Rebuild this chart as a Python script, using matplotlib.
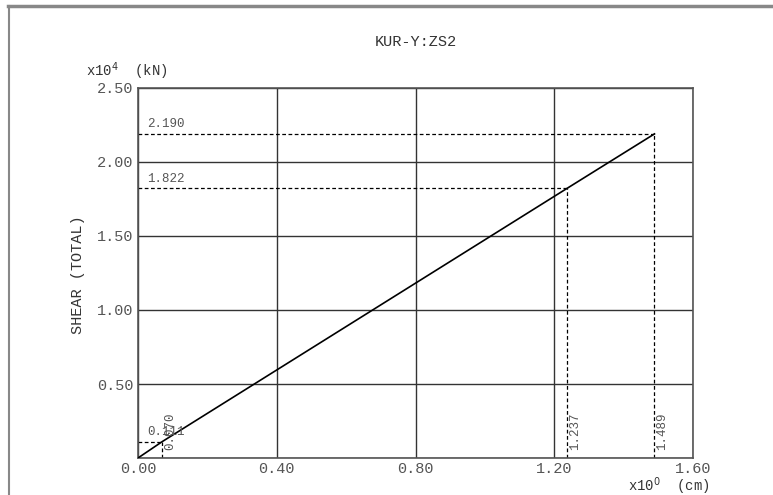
import matplotlib.pyplot as plt
from matplotlib.lines import Line2D

# 하중-변위 곡선 (x: cm, y: x10^4 kN)
disp = [0.0, 0.070, 1.237, 1.489]
shear = [0.0, 0.111, 1.822, 2.190]
disp_labels = ["0.070", "1.237", "1.489"]
shear_labels = ["0.111", "1.822", "2.190"]
xticks = [0.0, 0.4, 0.8, 1.2, 1.6]
yticks = [0.0, 0.5, 1.0, 1.5, 2.0, 2.5]

plt.rcParams['font.family'] = ['Liberation Mono', 'DejaVu Sans Mono']
gray = '#555555'

W, H = 773, 495
fig = plt.figure(figsize=(W / 100, H / 100), dpi=100)
ax = fig.add_axes([138 / W, 1 - 458 / H, (693 - 138) / W, (458 - 88) / H])

# 바깥 테두리 (위, 왼쪽)
fig.add_artist(Line2D([8 / W, 1], [1 - 6 / H, 1 - 6 / H], color='#888888', lw=2.5))
fig.add_artist(Line2D([9 / W, 9 / W], [0, 1 - 6 / H], color='#888888', lw=1.5))

ax.set_xlim(0, 1.6)
ax.set_ylim(0, 2.5)
ax.set_xticks(xticks)
ax.set_yticks(yticks)
ax.set_xticklabels(["%.2f" % v for v in xticks])
ax.set_yticklabels(["%.2f" % v if v > 0 else "" for v in yticks])
ax.tick_params(length=0, labelsize=11, colors=gray)
ax.tick_params(axis='y', pad=3)
ax.tick_params(axis='x', pad=3)
ax.grid(True, color='#333333', lw=1.0)
for s in ax.spines.values():
    s.set_color('#555555')
    s.set_linewidth(1.2)

ax.plot(disp, shear, color='black', lw=1.2, zorder=3)

# 기준점 점선과 값 표시
for xv, yv, xl, yl in zip(disp[1:], shear[1:], disp_labels, shear_labels):
    ax.plot([0, xv], [yv, yv], color='black', lw=0.9, ls=(0, (3, 2)), zorder=2)
    ax.plot([xv, xv], [0, yv], color='black', lw=0.9, ls=(0, (3, 2)), zorder=2)
    ax.text(0.026, yv + 0.025, yl, fontsize=9, color=gray, ha='left', va='bottom')
    ax.text(xv + 0.006, 0.055, xl, fontsize=9, color=gray, rotation=90,
            ha='left', va='bottom')

fig.text(78 / W, 1 - 275 / H, 'SHEAR (TOTAL)', fontsize=11, color='#333333',
         rotation=90, ha='center', va='center')
fig.text(416 / W, 1 - 42 / H, 'KUR-Y:ZS2', fontsize=11, color='#333333',
         ha='center', va='center')
fig.text(86 / W, 1 - 71 / H, r'x10$^4$  (kN)', fontsize=10, color='#333333',
         ha='left', va='center')
fig.text(628 / W, 1 - 486 / H, r'x10$^0$  (cm)', fontsize=10, color='#333333',
         ha='left', va='center')

fig.savefig('out.png', dpi=100)
